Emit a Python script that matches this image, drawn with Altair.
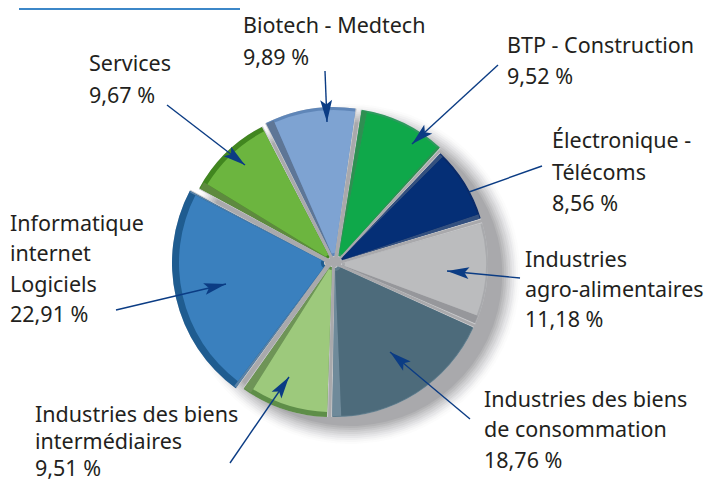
import math
import altair as alt
import pandas as pd

categories = ["BTP - Construction", "Électronique - Télécoms", "Industries agro-alimentaires",
              "Industries des biens de consommation", "Industries des biens intermédiaires",
              "Informatique internet Logiciels", "Services", "Biotech - Medtech"]
values = [9.52, 8.56, 11.18, 18.76, 9.51, 22.91, 9.67, 9.89]
faces = ["#0FA84A", "#052F76", "#BBBCBE", "#4D6B7B", "#9DC97C", "#3A80BE", "#6CB53F", "#7EA3D2"]
rims = ["#2E9A5E", "#0A2A68", "#A9AAAD", "#5F7C8C", "#5E8E48", "#1F5C90", "#41861F", "#5F86B8"]
bevels = ["#2F8F52", "#33507F", "#96979B", "#6F8A9A", "#6E9457", "#5A82A6", "#5E8A3F", "#5E7696"]
# apex position (page pixels) and radius of each exploded wedge
apex_x = [338, 339, 339, 335, 332, 327, 331, 334]
apex_y = [259, 261, 264, 265, 264, 263, 260, 259]
radii = [151, 148, 149, 152, 153, 155, 150, 152]
rim_w = [2, 2, 2, 1, 5, 7, 5, 3]
bevel_start = [0.6, 0.45, 0.0, 0.0, 0.0, 0.25, 0.8, 0.85]
bevel_end = [0.25, 0.5, 0.85, 0.95, 0.85, 0.15, 0.0, 0.0]

labels = [
    (["Biotech - Medtech", "9,89 %"], 243, [33, 65]),
    (["Services", "9,67 %"], 89, [71, 103]),
    (["BTP - Construction", "9,52 %"], 507, [53, 84]),
    (["Électronique -", "Télécoms", "8,56 %"], 552, [148, 180, 211]),
    (["Industries", "agro-alimentaires", "11,18 %"], 525, [267, 297, 327]),
    (["Industries des biens", "de consommation", "18,76 %"], 484, [407, 437, 468]),
    (["Industries des biens", "intermédiaires", "9,51 %"], 35, [422, 449, 476]),
    (["Informatique", "internet", "Logiciels", "22,91 %"], 10, [231, 261, 292, 322]),
]
arrows = [
    (325, 71, 327, 122, True),
    (167, 105, 245, 165, True),
    (498, 65, 412, 144, True),
    (542, 166, 469, 192, False),
    (520, 278, 447, 271, True),
    (470, 419, 390, 352, True),
    (230, 463, 289, 377, True),
    (116, 310, 226, 284, True),
]

OX, OY = 8, 8
theta_scale = alt.Scale(domain=[0, 100], range=[0.15, 0.15 + 6.28319])
layers = []


def wedge(a, b, color, cx, cy, outer, inner=0, opacity=1.0):
    df = pd.DataFrame({"a": [a], "b": [b]})
    return alt.Chart(df).mark_arc(
        outerRadius=outer, innerRadius=inner, color=color, opacity=opacity
    ).encode(
        theta=alt.Theta("a:Q", scale=theta_scale),
        theta2="b:Q",
        x=alt.value(cx - OX), y=alt.value(cy - OY))


# soft shadow, fading outward
shadow_radii = [170, 168, 166, 164, 162, 160, 158, 156, 154, 152]
shadow_alpha = [0.02, 0.03, 0.04, 0.05, 0.06, 0.07, 0.08, 0.09, 0.10, 0.11]
for r, op in zip(shadow_radii, shadow_alpha):
    layers.append(wedge(0, 100, "#55565C", 350, 274, r, opacity=op))

cum = 0.0
gap = 0.12
for i, v in enumerate(values):
    a, b = cum, cum + v
    cum = b
    cx, cy, R = apex_x[i], apex_y[i], radii[i]
    layers.append(wedge(a, b, "#C9CACC", cx, cy, R, 2))
    layers.append(wedge(a + gap, b - gap, rims[i], cx, cy, R, 3))
    if bevel_start[i]:
        layers.append(wedge(a + gap, a + gap + bevel_start[i], bevels[i], cx, cy, R - 1, 3))
    if bevel_end[i]:
        layers.append(wedge(b - gap - bevel_end[i], b - gap, bevels[i], cx, cy, R - 1, 3))
    layers.append(wedge(a + gap + bevel_start[i], b - gap - bevel_end[i], faces[i], cx, cy, R - rim_w[i], 6))

# labels
for lines, x, ys in labels:
    for t, y in zip(lines, ys):
        layers.append(alt.Chart(pd.DataFrame({"t": [t]})).mark_text(
            font="Noto Sans", fontSize=21.5, color="#231F20", align="left", baseline="alphabetic"
        ).encode(text="t:N", x=alt.value(x - OX), y=alt.value(y - OY)))

# arrows
head = "M0,-1 L0.46,0.7 L0,0.35 L-0.46,0.7 Z"
for x0, y0, x1, y1, has_head in arrows:
    layers.append(alt.Chart(pd.DataFrame({"k": [0]})).mark_rule(color="#0B3C84", strokeWidth=1.4).encode(
        x=alt.value(x0 - OX), y=alt.value(y0 - OY), x2=alt.value(x1 - OX), y2=alt.value(y1 - OY)))
    if has_head:
        ang = math.degrees(math.atan2(x1 - x0, -(y1 - y0))) % 360
        L = 13
        d = math.hypot(x1 - x0, y1 - y0)
        ux, uy = (x1 - x0) / d, (y1 - y0) / d
        layers.append(alt.Chart(pd.DataFrame({"k": [0]})).mark_point(
            shape=head, filled=True, color="#0B3C84", opacity=1, size=670, angle=ang
        ).encode(x=alt.value(x1 - ux * L - OX), y=alt.value(y1 - uy * L - OY)))

# top rule
layers.append(alt.Chart(pd.DataFrame({"k": [0]})).mark_rule(color="#3C87C8", strokeWidth=2).encode(
    x=alt.value(19 - OX), x2=alt.value(240 - OX), y=alt.value(1)))

chart = alt.layer(*layers).properties(
    width=696, height=473, padding=0, autosize=alt.AutoSizeParams(type="none"), background="#FFFFFF"
).configure_view(stroke=None)

chart.save("out.html", embed_options={"renderer": "svg", "actions": False})
